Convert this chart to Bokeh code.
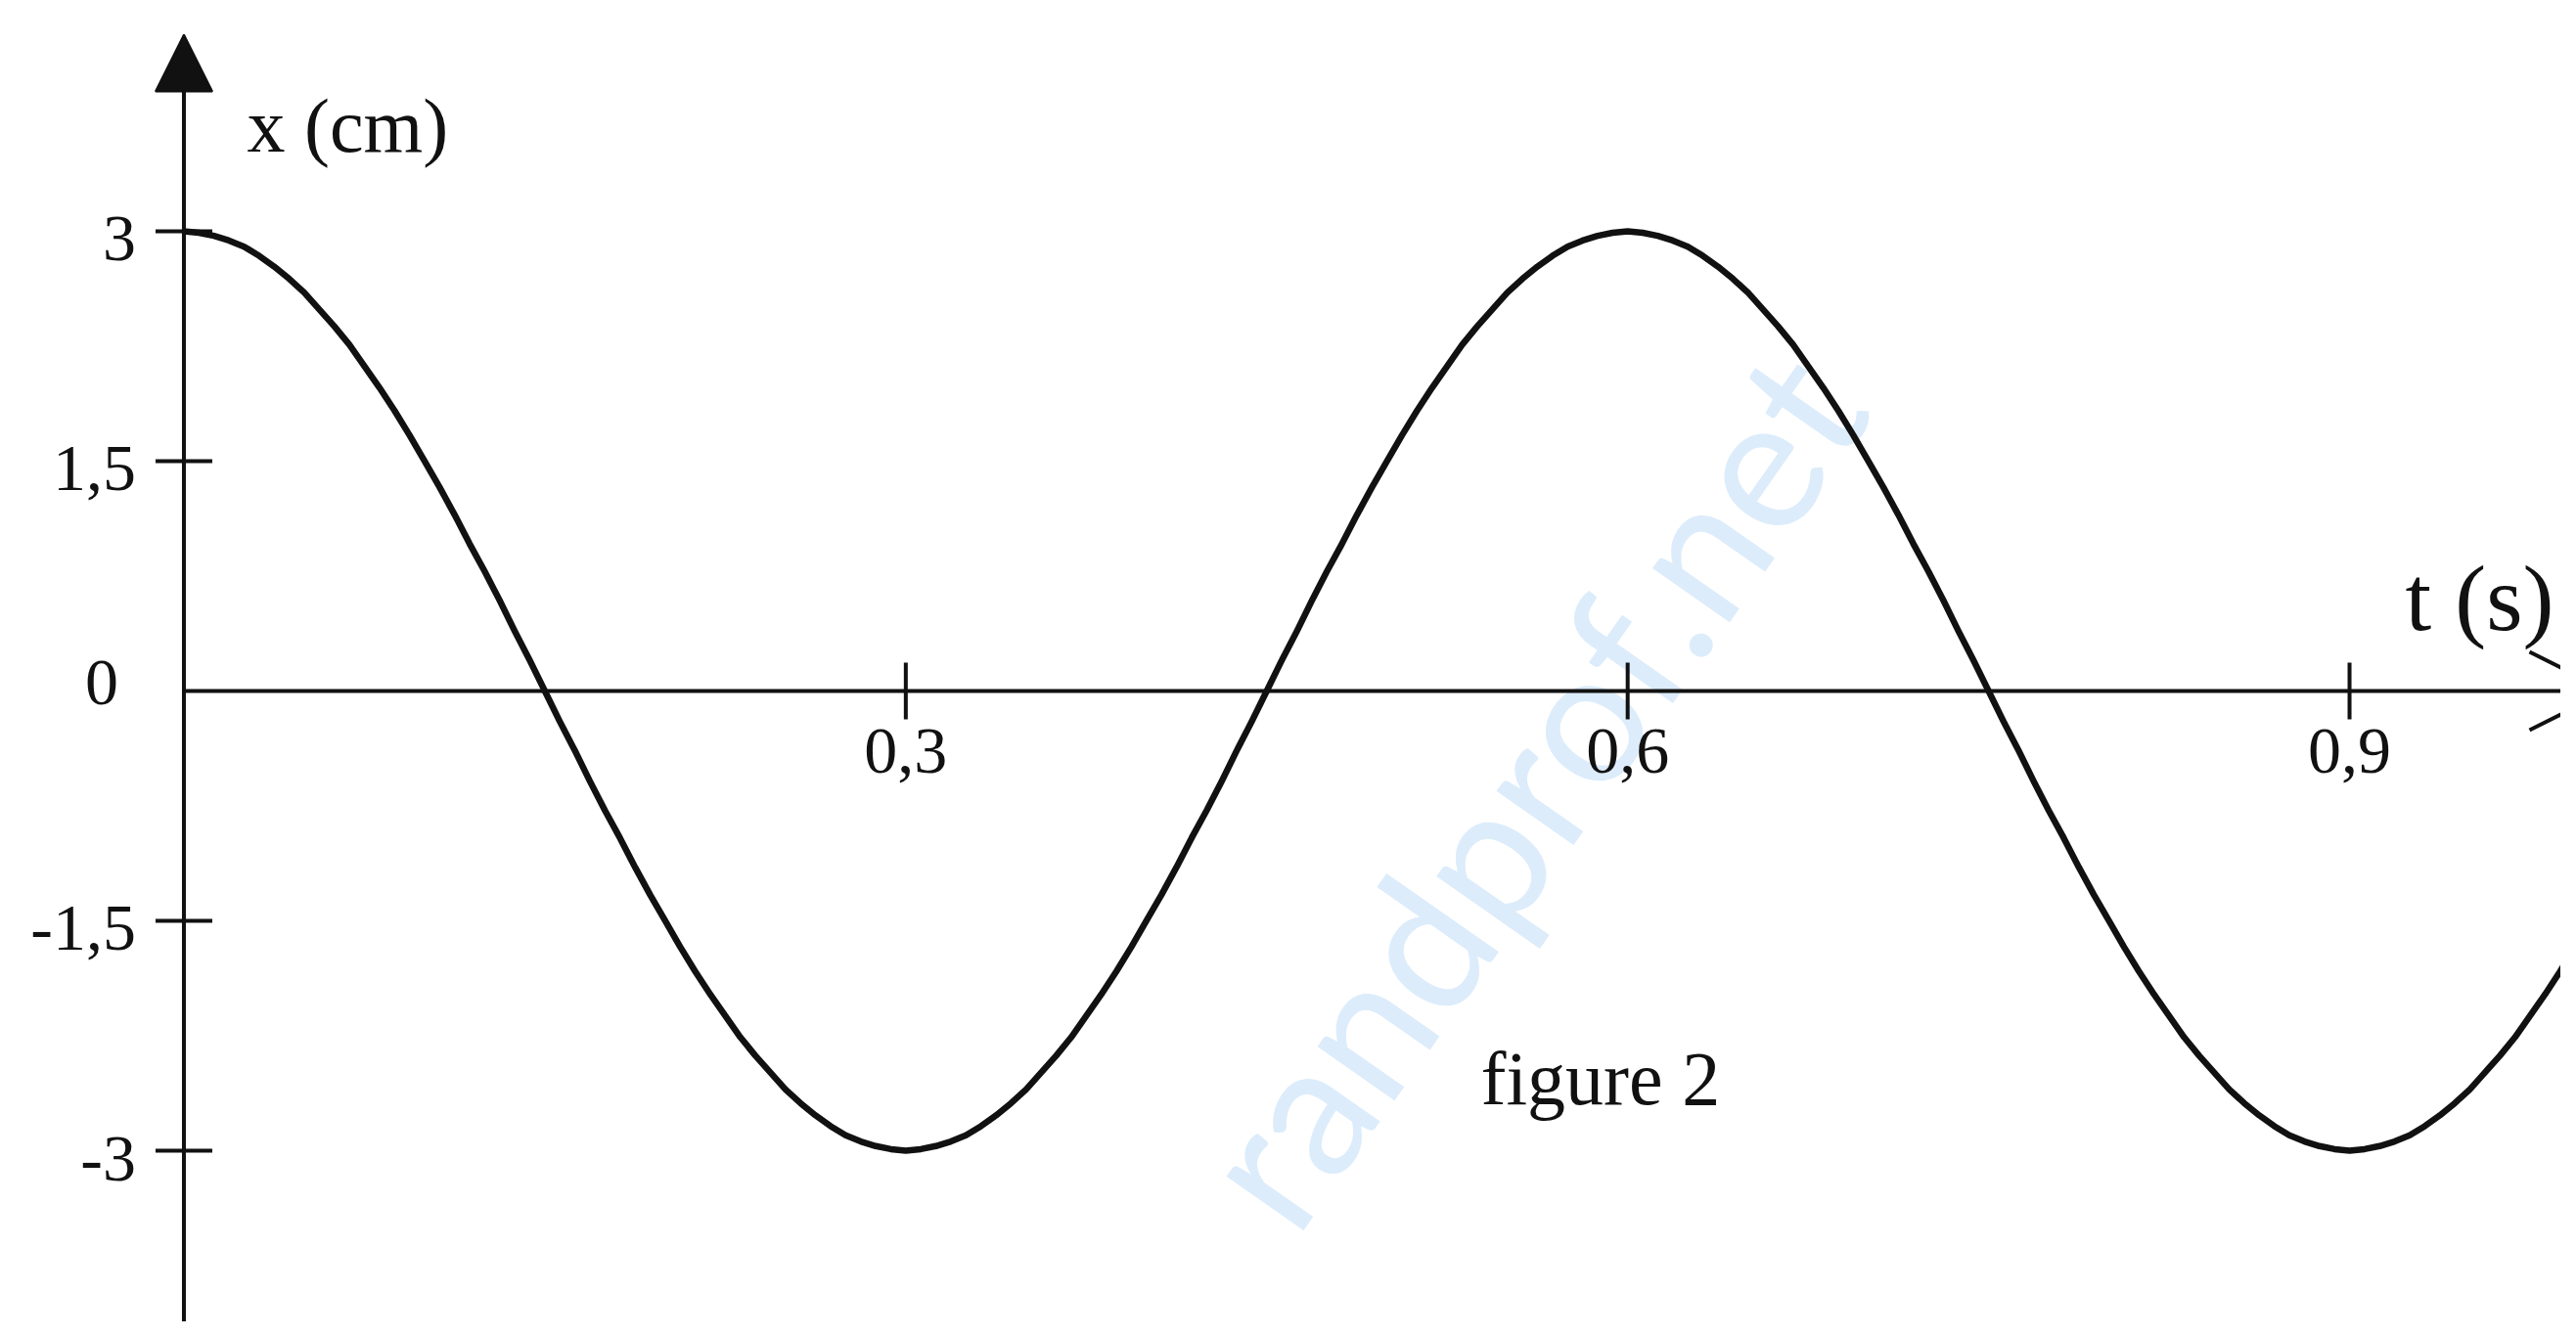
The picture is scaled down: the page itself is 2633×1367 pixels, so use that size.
from bokeh.plotting import figure
from bokeh.models import Range1d, Arrow, NormalHead, OpenHead, ColumnDataSource
from bokeh.core.properties import value
from bokeh.embed import file_html
from bokeh.resources import INLINE
import math

# ---- data ----
t_s = [0.0, 0.00625, 0.0125, 0.01875, 0.025, 0.03125, 0.0375, 0.04375,
       0.05, 0.05625, 0.0625, 0.06875, 0.075, 0.08125, 0.0875, 0.09375,
       0.1, 0.10625, 0.1125, 0.11875, 0.125, 0.13125, 0.1375, 0.14375,
       0.15, 0.15625, 0.1625, 0.16875, 0.175, 0.18125, 0.1875, 0.19375,
       0.2, 0.20625, 0.2125, 0.21875, 0.225, 0.23125, 0.2375, 0.24375,
       0.25, 0.25625, 0.2625, 0.26875, 0.275, 0.28125, 0.2875, 0.29375,
       0.3, 0.30625, 0.3125, 0.31875, 0.325, 0.33125, 0.3375, 0.34375,
       0.35, 0.35625, 0.3625, 0.36875, 0.375, 0.38125, 0.3875, 0.39375,
       0.4, 0.40625, 0.4125, 0.41875, 0.425, 0.43125, 0.4375, 0.44375,
       0.45, 0.45625, 0.4625, 0.46875, 0.475, 0.48125, 0.4875, 0.49375,
       0.5, 0.50625, 0.5125, 0.51875, 0.525, 0.53125, 0.5375, 0.54375,
       0.55, 0.55625, 0.5625, 0.56875, 0.575, 0.58125, 0.5875, 0.59375,
       0.6, 0.60625, 0.6125, 0.61875, 0.625, 0.63125, 0.6375, 0.64375,
       0.65, 0.65625, 0.6625, 0.66875, 0.675, 0.68125, 0.6875, 0.69375,
       0.7, 0.70625, 0.7125, 0.71875, 0.725, 0.73125, 0.7375, 0.74375,
       0.75, 0.75625, 0.7625, 0.76875, 0.775, 0.78125, 0.7875, 0.79375,
       0.8, 0.80625, 0.8125, 0.81875, 0.825, 0.83125, 0.8375, 0.84375,
       0.85, 0.85625, 0.8625, 0.86875, 0.875, 0.88125, 0.8875, 0.89375,
       0.9, 0.90625, 0.9125, 0.91875, 0.925, 0.93125, 0.9375, 0.94375,
       0.95, 0.95625, 0.9625, 0.96875, 0.975, 0.98125, 0.9875, 0.99375,
       1.0]
x_cm = [3.00, 2.99, 2.97, 2.94, 2.90, 2.84, 2.77, 2.69, 2.60, 2.49, 2.38, 2.26, 2.12,
        1.98, 1.83, 1.67, 1.50, 1.33, 1.15, 0.96, 0.78, 0.59, 0.39, 0.20, 0.00,
        -0.20, -0.39, -0.59, -0.78, -0.96, -1.15, -1.33, -1.50, -1.67, -1.83, -1.98, -2.12,
        -2.26, -2.38, -2.49, -2.60, -2.69, -2.77, -2.84, -2.90, -2.94, -2.97, -2.99, -3.00,
        -2.99, -2.97, -2.94, -2.90, -2.84, -2.77, -2.69, -2.60, -2.49, -2.38, -2.26, -2.12,
        -1.98, -1.83, -1.67, -1.50, -1.33, -1.15, -0.96, -0.78, -0.59, -0.39, -0.20, 0.00,
        0.20, 0.39, 0.59, 0.78, 0.96, 1.15, 1.33, 1.50, 1.67, 1.83, 1.98, 2.12,
        2.26, 2.38, 2.49, 2.60, 2.69, 2.77, 2.84, 2.90, 2.94, 2.97, 2.99, 3.00,
        2.99, 2.97, 2.94, 2.90, 2.84, 2.77, 2.69, 2.60, 2.49, 2.38, 2.26, 2.12,
        1.98, 1.83, 1.67, 1.50, 1.33, 1.15, 0.96, 0.78, 0.59, 0.39, 0.20, 0.00,
        -0.20, -0.39, -0.59, -0.78, -0.96, -1.15, -1.33, -1.50, -1.67, -1.83, -1.98, -2.12,
        -2.26, -2.38, -2.49, -2.60, -2.69, -2.77, -2.84, -2.90, -2.94, -2.97, -2.99, -3.00,
        -2.99, -2.97, -2.94, -2.90, -2.84, -2.77, -2.69, -2.60, -2.49, -2.38, -2.26, -2.12,
        -1.98, -1.83, -1.67, -1.50]

ytick_vals = [3, 1.5, -1.5, -3]
ytick_labels = ["3", "1,5", "-1,5", "-3"]
xtick_vals = [0.3, 0.6, 0.9]
xtick_labels = ["0,3", "0,6", "0,9"]
zero_label = "0"
y_title = "x (cm)"
x_title = "t (s)"
caption = "figure 2"
watermark = "randprof.net"

W, H = 2617, 1351
X0, X1 = -0.07623, 0.98781
Y0, Y1 = -4.117, 4.5063

SERIF = value("Liberation Serif")
INK = "#111111"

p = figure(width=W, height=H, x_range=Range1d(X0, X1), y_range=Range1d(Y0, Y1),
           output_backend="svg", toolbar_location=None,
           x_axis_location=None, y_axis_location=None, min_border=0)
p.grid.visible = False
p.outline_line_color = None
p.background_fill_color = "white"
p.border_fill_color = "white"

# watermark
p.text(x=[0.558], y=[-0.62], text=[watermark], angle=55, angle_units="deg",
       text_font=value("Lato"), text_font_size="190px", text_color="#dcecfb",
       text_align="center", text_baseline="middle")

# axes lines with arrows
p.add_layout(Arrow(end=NormalHead(size=58, fill_color=INK, line_color=INK, line_width=2),
                   x_start=0, y_start=Y0 - 0.5, x_end=0, y_end=4.283,
                   line_color=INK, line_width=4))
p.add_layout(Arrow(end=OpenHead(size=80, line_color=INK, line_width=4),
                   x_start=0, y_start=0, x_end=1.00732, y_end=0,
                   line_color=INK, line_width=4))

# ticks crossing the axes
p.scatter(x=[0] * len(ytick_vals), y=ytick_vals, marker="dash", size=58,
          line_color=INK, line_width=4)
p.scatter(x=xtick_vals, y=[0] * len(xtick_vals), marker="dash", size=58,
          angle=math.pi / 2, line_color=INK, line_width=4)

# tick labels
p.text(x=[0] * len(ytick_vals), y=ytick_vals, text=ytick_labels, text_font=SERIF,
       text_font_size="68px", text_color=INK, text_align="right",
       text_baseline="middle", x_offset=-49, y_offset=8)
p.text(x=[0], y=[0], text=[zero_label], text_font=SERIF,
       text_font_size="68px", text_color=INK, text_align="right",
       text_baseline="middle", x_offset=-67, y_offset=-8)
p.text(x=xtick_vals, y=[0] * len(xtick_vals), text=xtick_labels, text_font=SERIF,
       text_font_size="68px", text_color=INK, text_align="center",
       text_baseline="middle", y_offset=62)

# curve
src = ColumnDataSource(data=dict(t=t_s, x=x_cm))
p.line("t", "x", source=src, line_color=INK, line_width=6.5, line_join="round")

# titles
p.text(x=[0.0262], y=[3.689], text=[y_title], text_font=SERIF, text_font_size="78px",
       text_color=INK, text_align="left", text_baseline="alphabetic")
p.text(x=[0.9232], y=[0.606], text=[x_title], text_font=SERIF, text_font_size="96px",
       text_color=INK, text_align="left", text_baseline="alphabetic")
p.text(x=[0.5389], y=[-2.528], text=[caption], text_font=SERIF, text_font_size="78px",
       text_color=INK, text_align="left", text_baseline="alphabetic")

open("out.html", "w").write(file_html(p, INLINE))
